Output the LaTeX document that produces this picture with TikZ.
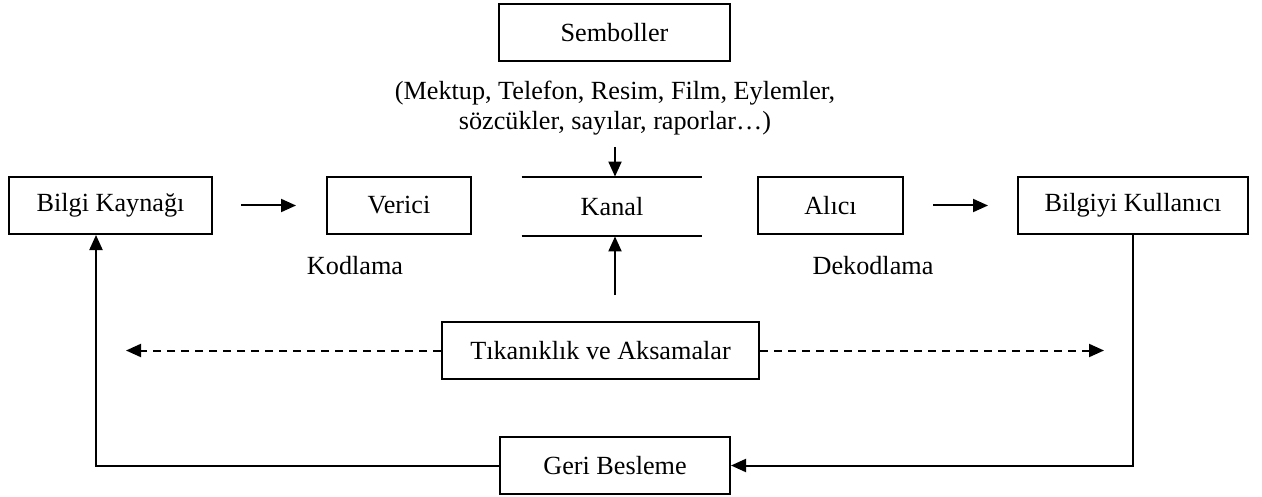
\documentclass[tikz,border=0pt]{standalone}
\usepackage{fontspec}
\setmainfont{Liberation Serif}
\usetikzlibrary{arrows.meta}
\begin{document}
\begin{tikzpicture}[x=0.5pt,y=-0.5pt,
  font=\fontsize{13.1}{15}\selectfont,
  box/.style={draw,line width=1pt,inner sep=0pt,minimum height=28.5pt},
  plain/.style={inner sep=0pt,align=center},
  arr/.style={line width=1pt,-{Triangle[length=7.5pt,width=6.5pt]}},
  dsh/.style={line width=1pt,dash pattern=on 4pt off 3pt,-{Triangle[length=7.5pt,width=6.5pt]}}]
\useasboundingbox (0,0) rectangle (1262,497);
% boxes
\node[box,minimum width=115.5pt] (sem) at (614.5,32.5) {Semboller};
\node[plain] (sym) at (615,108) {(Mektup, Telefon, Resim, Film, Eylemler,\\ sözcükler, sayılar, raporlar…)};
\node[box,minimum width=101.5pt] (kay) at (110.5,205.5) {Bilgi Kaynağı};
\node[box,minimum width=72pt] (ver) at (399,205.5) {Verici};
\node[plain,minimum width=90pt,minimum height=29.5pt] (kan) at (612,206.5) {Kanal};
\node[box,minimum width=72.5pt] (ali) at (830.5,205.5) {Alıcı};
\node[box,minimum width=115pt] (kul) at (1133,205.5) {Bilgiyi Kullanıcı};
\node[plain] (kod) at (355,266) {Kodlama};
\node[plain] (dek) at (873,266) {Dekodlama};
\node[box,minimum width=158.5pt] (tik) at (600.5,350.5) {Tıkanıklık ve Aksamalar};
\node[box,minimum width=115pt] (geri) at (615,465.5) {Geri Besleme};
% coordinates
\coordinate (symtail) at (615,147);
\coordinate (noisetail) at (615,295);
\coordinate (dl) at (126,350.5);
\coordinate (dr) at (1104,350.5);
\coordinate (fbl) at (96,465.5);
% kanal lines
\draw[line width=1pt] (kan.north west) -- (kan.north east);
\draw[line width=1pt] (kan.south west) -- (kan.south east);
% arrows
\draw[arr] (symtail) -- (symtail |- kan.north);
\draw[arr] (noisetail) -- (noisetail |- kan.south);
\draw[arr,shorten <=14pt,shorten >=15pt] (kay.east) -- (ver.west);
\draw[arr,shorten <=14.5pt,shorten >=14.5pt] (ali.east) -- (kul.west);
\draw[dsh] (tik.west) -- (dl);
\draw[dsh] (tik.east) -- (dr);
\draw[arr] (kul.south) |- (geri.east);
\draw[arr] (geri.west) -- (fbl) -- (fbl |- kay.south);
\end{tikzpicture}
\end{document}
